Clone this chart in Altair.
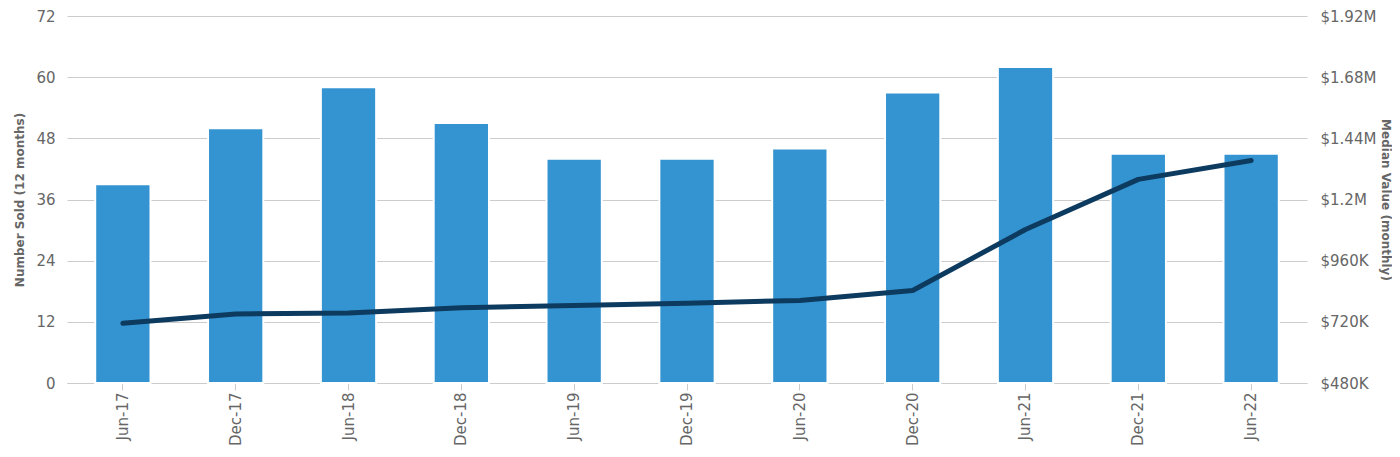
import altair as alt
import pandas as pd

periods = ["Jun-17", "Dec-17", "Jun-18", "Dec-18", "Jun-19", "Dec-19",
           "Jun-20", "Dec-20", "Jun-21", "Dec-21", "Jun-22"]
number_sold = [39, 50, 58, 51, 44, 44, 46, 57, 62, 45, 45]
median_value = [714000, 751000, 755000, 775000, 784000, 793000,
                804000, 843000, 1082000, 1279000, 1353000]

left_ticks = [0, 12, 24, 36, 48, 60, 72]
right_ticks = [480000, 720000, 960000, 1200000, 1440000, 1680000, 1920000]

df = pd.DataFrame({"period": periods, "sold": number_sold, "value": median_value})

FONT = "DejaVu Sans"
GRAY = "#666666"
GRID = "#cccccc"

x_enc = alt.X(
    "period:N", sort=periods, title=None,
    scale=alt.Scale(paddingInner=0.51, paddingOuter=0.25),
    axis=alt.Axis(labelAngle=-90, labelFont=FONT, labelFontSize=15, labelColor=GRAY,
                  domainColor=GRID, tickColor=GRID, tickSize=7, labelPadding=2,
                  grid=False),
)

bars = alt.Chart(df).mark_bar(color="#3494d1", stroke="white", strokeWidth=2).encode(
    x=x_enc,
    y=alt.Y("sold:Q", title="Number Sold (12 months)",
            scale=alt.Scale(domain=[0, 72], nice=False),
            axis=alt.Axis(values=left_ticks, grid=True, gridColor=GRID, domain=False,
                          ticks=False, labelPadding=12, labelFont=FONT, labelFontSize=15,
                          labelColor=GRAY, titleFont=FONT, titleFontSize=12,
                          titleFontWeight="bold", titleColor=GRAY, titlePadding=9)),
)

line = alt.Chart(df).mark_line(color="#0d3a5f", strokeWidth=5, strokeCap="round",
                               strokeJoin="round").encode(
    x=alt.X("period:N", sort=periods),
    y=alt.Y("value:Q", title="Median Value (monthly)",
            scale=alt.Scale(domain=[480000, 1920000], nice=False),
            axis=alt.Axis(orient="right", values=right_ticks, grid=False, domain=False,
                          ticks=False, labelPadding=13, labelFont=FONT, labelFontSize=15,
                          labelColor=GRAY, titleFont=FONT, titleFontSize=12,
                          titleFontWeight="bold", titleColor=GRAY, titlePadding=3,
                          labelExpr="datum.value >= 1000000 ? '$' + format(datum.value/1000000, '.3~') + 'M' : '$' + format(datum.value/1000, 'd') + 'K'")),
)

chart = alt.layer(bars, line).resolve_scale(y="independent").properties(
    width=1240, height=367,
    padding={"left": 59, "top": 8, "right": 85, "bottom": 66},
    autosize=alt.AutoSizeParams(type="none"),
).configure_view(stroke=None)

chart.save("out.html", embed_options={"renderer": "svg", "actions": False})
